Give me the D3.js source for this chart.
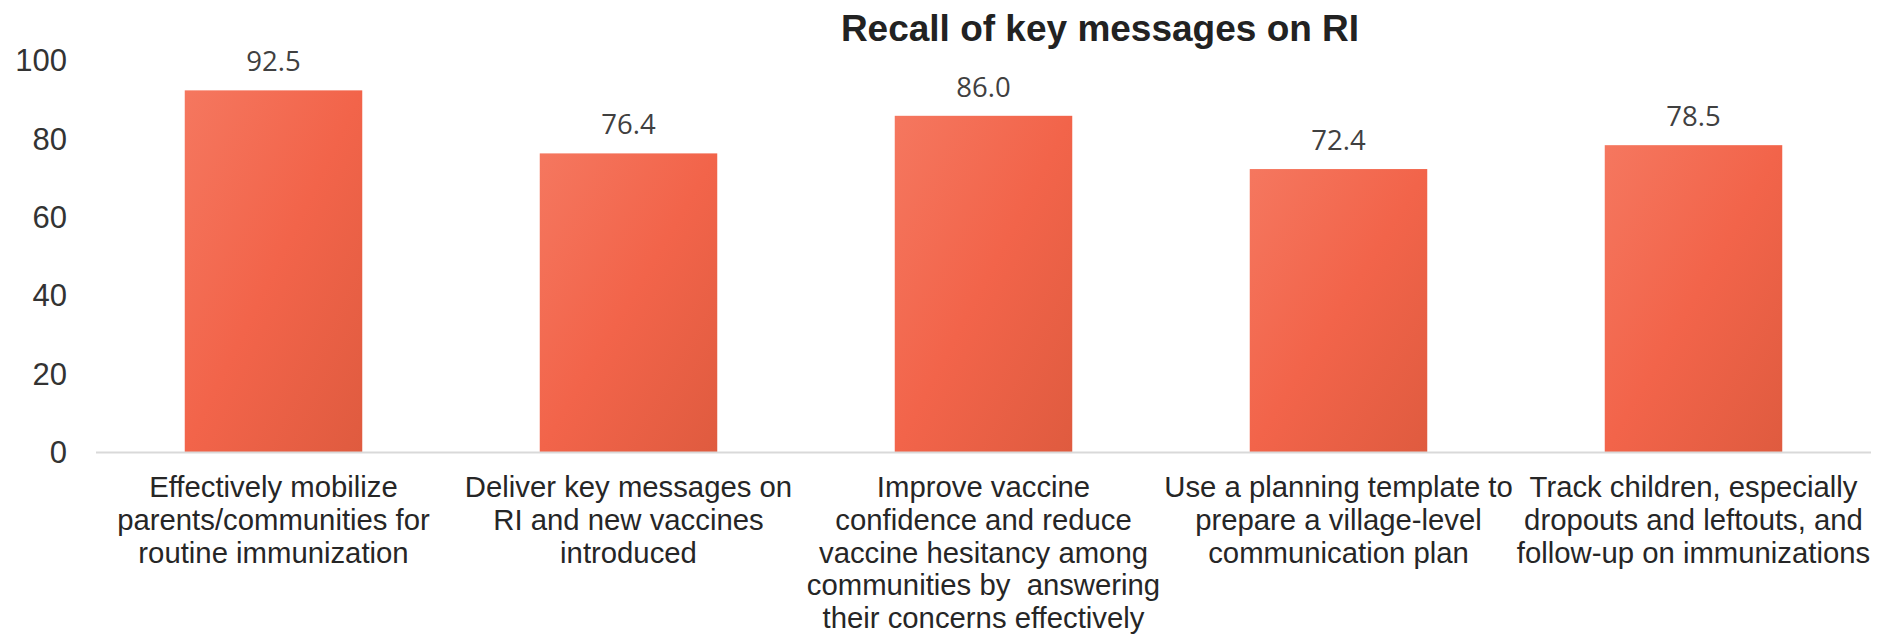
<!DOCTYPE html>
<html>
<head>
<meta charset="utf-8">
<script src="https://cdn.jsdelivr.net/npm/d3@7"></script>
<style>
  html, body { margin: 0; padding: 0; background: #ffffff; }
  svg { display: block; }
</style>
</head>
<body>
<div id="chart"></div>
<script>
// Recall of key messages on routine immunization (RI), percent of respondents
const categories = [
  "Effectively mobilize\nparents/communities for\nroutine immunization",
  "Deliver key messages on\nRI and new vaccines\nintroduced",
  "Improve vaccine\nconfidence and reduce\nvaccine hesitancy among\ncommunities by  answering\ntheir concerns effectively",
  "Use a planning template to\nprepare a village-level\ncommunication plan",
  "Track children, especially\ndropouts and leftouts, and\nfollow-up on immunizations"
];
const values = [92.5, 76.4, 86.0, 72.4, 78.5];
const yTicks = [0, 20, 40, 60, 80, 100];
const title = "Recall of key messages on RI";

const W = 1893, H = 639;
const plot = { left: 96, right: 1871, top: 61, bottom: 452.5 };

const svg = d3.select("#chart").append("svg")
  .attr("width", W).attr("height", H);

// Diagonal orange-red gradient used on every bar
const defs = svg.append("defs");
const grad = defs.append("linearGradient")
  .attr("id", "barFill")
  .attr("x1", 0).attr("y1", 0).attr("x2", 1).attr("y2", 1);
grad.append("stop").attr("offset", "0%").attr("stop-color", "#F5775F");
grad.append("stop").attr("offset", "50%").attr("stop-color", "#F2644A");
grad.append("stop").attr("offset", "100%").attr("stop-color", "#DF5B3F");

const x = d3.scaleBand()
  .domain(categories)
  .range([plot.left, plot.right])
  .paddingInner(0.5)
  .paddingOuter(0.25);

const y = d3.scaleLinear()
  .domain([0, 100])
  .range([plot.bottom, plot.top]);

// Title
svg.append("text")
  .attr("x", 1100).attr("y", 41)
  .attr("text-anchor", "middle")
  .style("font-family", "'Liberation Sans', Arial, sans-serif")
  .style("font-weight", "bold")
  .style("font-size", "37px")
  .style("fill", "#222222")
  .text(title);

// Y axis labels (no axis line, no ticks)
const yAxis = d3.axisLeft(y).tickValues(yTicks).tickSize(0).tickPadding(0);
const yG = svg.append("g")
  .attr("transform", `translate(67,0)`)
  .call(yAxis);
yG.select(".domain").remove();
yG.selectAll("text")
  .style("font-family", "'Liberation Sans', Arial, sans-serif")
  .style("font-size", "31px")
  .style("fill", "#333333");

// Bars
const data = categories.map((c, i) => ({ c, v: values[i] }));
svg.append("g").selectAll("rect")
  .data(data)
  .join("rect")
  .attr("x", d => x(d.c))
  .attr("y", d => y(d.v))
  .attr("width", x.bandwidth())
  .attr("height", d => y(0) - y(d.v))
  .attr("fill", "url(#barFill)");

// Category axis line
const xAxis = d3.axisBottom(x).tickSize(0).tickFormat("");
const xG = svg.append("g")
  .attr("transform", `translate(0,${y(0)})`)
  .call(xAxis);
xG.select(".domain")
  .attr("stroke", "#D9D9D9")
  .attr("stroke-width", 2)
  .attr("d", `M${plot.left},0H${plot.right}`);

// Value labels above bars
svg.append("g").selectAll("text")
  .data(data)
  .join("text")
  .attr("x", d => x(d.c) + x.bandwidth() / 2)
  .attr("y", d => y(d.v) - 19)
  .attr("text-anchor", "middle")
  .style("font-family", "'Open Sans', sans-serif")
  .style("font-size", "27.5px")
  .style("fill", "#404040")
  .text(d => d.v.toFixed(1));

// Wrapped category labels
const lineH = 32.8;
const firstBaseline = 497;
const labels = svg.append("g").selectAll("text")
  .data(categories)
  .join("text")
  .attr("x", d => x(d) + x.bandwidth() / 2)
  .attr("y", firstBaseline)
  .attr("text-anchor", "middle")
  .attr("xml:space", "preserve")
  .style("white-space", "pre")
  .style("font-family", "'Liberation Sans', Arial, sans-serif")
  .style("font-size", "29.3px")
  .style("fill", "#262626");
labels.each(function(d) {
  const t = d3.select(this);
  const cx = x(d) + x.bandwidth() / 2;
  d.split("\n").forEach((line, i) => {
    t.append("tspan")
      .attr("x", cx)
      .attr("y", firstBaseline + i * lineH)
      .text(line);
  });
});
</script>
</body>
</html>
